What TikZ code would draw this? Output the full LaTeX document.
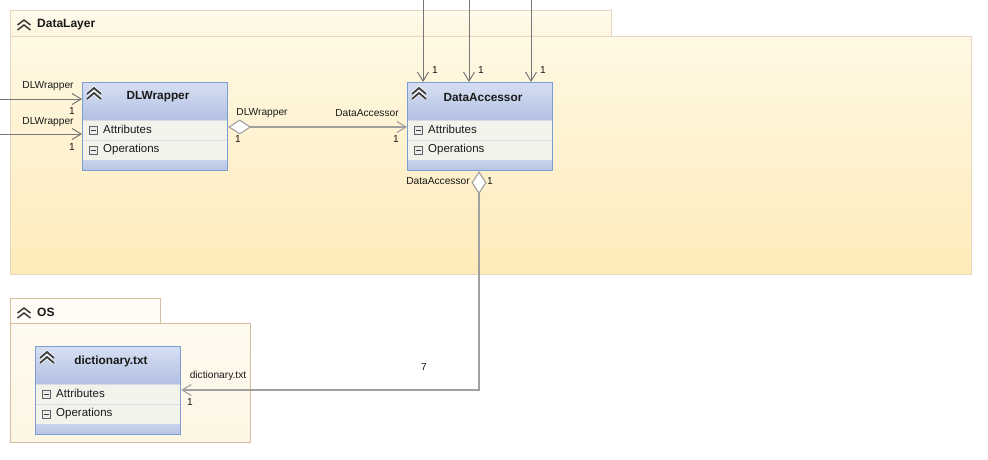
\documentclass[tikz,border=0pt]{standalone}
\usepackage{fontspec}
\setmainfont{Liberation Sans}
\usetikzlibrary{arrows.meta,calc}
\definecolor{pkgborder}{HTML}{E8D6C0}
\definecolor{pkgtop}{HTML}{FFF8E4}
\definecolor{pkgbot}{HTML}{FEEBB9}
\definecolor{tabtop}{HTML}{FFFBEE}
\definecolor{tabbot}{HTML}{FEF5DD}
\definecolor{osborder}{HTML}{D9BC9F}
\definecolor{ostop}{HTML}{FFFAF0}
\definecolor{osbot}{HTML}{FEF6E4}
\definecolor{ostabc}{HTML}{FFFCF6}
\definecolor{clsborder}{HTML}{7B9DD2}
\definecolor{hdrtop}{HTML}{D6DFF2}
\definecolor{hdrbot}{HTML}{B3C1E3}
\definecolor{rowc}{HTML}{F2F4EC}
\definecolor{sepc}{HTML}{D5DBE0}
\definecolor{stripc}{HTML}{B7C4E5}
\definecolor{iconc}{HTML}{3A3A3A}
\definecolor{linec}{HTML}{A0A0A0}
\definecolor{darkline}{HTML}{767676}
\definecolor{txtc}{HTML}{1A1A1A}
\tikzset{
  pkgbody/.style={draw=pkgborder, line width=1pt, top color=pkgtop, bottom color=pkgbot, inner sep=0pt, anchor=north west},
  pkgtab/.style={draw=pkgborder, line width=1pt, top color=tabtop, bottom color=tabbot, inner sep=0pt, anchor=north west},
  osbody/.style={draw=osborder, line width=1pt, top color=ostop, bottom color=osbot, inner sep=0pt, anchor=north west},
  ostab/.style={draw=osborder, line width=1pt, fill=ostabc, inner sep=0pt, anchor=north west},
  pkgtitle/.style={font=\bfseries\fontsize{12}{14}\selectfont, text=txtc, inner sep=0pt, anchor=west},
  clsbox/.style={draw=clsborder, line width=1.2pt, minimum width=145pt, minimum height=88pt, inner sep=0pt},
  clstitle/.style={font=\bfseries\fontsize{11.8}{13}\selectfont, text=txtc, inner sep=0pt},
  rowtext/.style={font=\fontsize{11.5}{13}\selectfont, text=txtc, inner sep=0pt, anchor=west},
  minusbox/.style={draw=iconc!80, fill=white!85!gray, line width=0.8pt, minimum size=8pt, inner sep=0pt},
  chevline/.style={draw=iconc, line width=1.8pt},
  lbl/.style={font=\fontsize{10.2}{12}\selectfont, text=txtc, inner sep=0pt},
  assocdark/.style={draw=darkline, line width=1pt, -{Straight Barb[length=9pt,width=11pt]}},
  agg/.style={draw=linec, line width=1.6pt, {Diamond[length=23pt,width=15pt,fill=white,line width=1.1pt]}-{Straight Barb[length=9pt,width=11pt,line width=1.1pt]}}
}
\newcommand{\umlcls}[4]{%
  \begin{scope}[shift={(#2,#3)}]
    \fill[rowc] (0,38) rectangle (145,78);
    \shade[top color=hdrtop, bottom color=hdrbot] (0,0) rectangle (145,38);
    \shade[top color=stripc!75!white, bottom color=stripc] (0,78) rectangle (145,88);
    \draw[sepc, line width=1pt] (0,38) -- (145,38);
    \draw[sepc, line width=1pt] (0,58) -- (145,58);
    \node[clsbox, anchor=north west] (#1) at (0,0) {};
    \draw[white, line width=3.2pt] (5,12) -- (12,6) -- (19,12);
    \draw[white, line width=3.2pt] (5,17) -- (12,11) -- (19,17);
    \draw[chevline] (5,12) -- (12,6) -- (19,12);
    \draw[chevline] (5,17) -- (12,11) -- (19,17);
    \node[clstitle] (#1-title) at (76,15) {#4};
    \node[minusbox] (#1-m1) at (11,48) {};
    \draw[iconc, line width=1pt] (8.5,48) -- (13.5,48);
    \node[minusbox] (#1-m2) at (11,68) {};
    \draw[iconc, line width=1pt] (8.5,68) -- (13.5,68);
    \node[rowtext] (#1-attr) at (21,47.5) {Attributes};
    \node[rowtext] (#1-ops) at (21,67.5) {Operations};
  \end{scope}}
\begin{document}
\begin{tikzpicture}[x=1pt,y=-1pt]
\useasboundingbox (0,0) rectangle (988,459);
\fill[white] (0,0) rectangle (988,459);
% DataLayer package
\node[pkgtab, minimum width=601pt, minimum height=26pt] (dltab) at (10,10) {};
\node[pkgbody, minimum width=961pt, minimum height=238pt] (dl) at (10,36) {};
\draw[chevline, line width=1.5pt] (17.5,25) -- (24,20) -- (30.5,25);
\draw[chevline, line width=1.5pt] (17.5,30) -- (24,25) -- (30.5,30);
\node[pkgtitle] (dlname) at (37,24.5) {DataLayer};
% OS package
\node[ostab, minimum width=150pt, minimum height=25pt] (ostab) at (10,298) {};
\node[osbody, minimum width=240pt, minimum height=119pt] (os) at (10,323) {};
\draw[chevline, line width=1.5pt] (17.5,313) -- (24,308) -- (30.5,313);
\draw[chevline, line width=1.5pt] (17.5,318) -- (24,313) -- (30.5,318);
\node[pkgtitle] (osname) at (37,312.5) {OS};
% classes
\umlcls{dlw}{82}{82}{DLWrapper}
\umlcls{da}{407}{82}{DataAccessor}
\umlcls{dict}{35}{346}{dictionary.txt}
% incoming to DLWrapper
\coordinate (in1) at (0,99);
\coordinate (in2) at (0,134);
\draw[assocdark] (in1) -- (in1 -| dlw.west);
\draw[assocdark] (in2) -- (in2 -| dlw.west);
\node[lbl] (lin1) at (48,86.5) {DLWrapper};
\node[lbl] (lin1m) at (72,110.5) {1};
\node[lbl] (lin2) at (48,122) {DLWrapper};
\node[lbl] (lin2m) at (72,147) {1};
% DLWrapper -> DataAccessor
\coordinate (r1) at (0,127);
\draw[agg] (r1 -| dlw.east) -- (r1 -| da.west);
\node[lbl] (a1) at (262,113) {DLWrapper};
\node[lbl] (a1m) at (238,139) {1};
\node[lbl] (a2) at (367,113) {DataAccessor};
\node[lbl] (a2m) at (396,139) {1};
% top incoming to DataAccessor
\coordinate (t1) at (423,0);
\coordinate (t2) at (469,0);
\coordinate (t3) at (531,0);
\draw[assocdark] (t1) -- (t1 |- da.north);
\draw[assocdark] (t2) -- (t2 |- da.north);
\draw[assocdark] (t3) -- (t3 |- da.north);
\node[lbl] (t1m) at (435,70) {1};
\node[lbl] (t2m) at (481,70) {1};
\node[lbl] (t3m) at (543,70) {1};
% DataAccessor -> dictionary.txt
\coordinate (bx) at (479,390);
\draw[agg] (bx |- da.south) -- (bx) -- (bx -| dict.east);
\node[lbl] (b1) at (438,181) {DataAccessor};
\node[lbl] (b1m) at (490,181) {1};
\node[lbl] (b7) at (424,367) {7};
\node[lbl] (b2) at (218,376) {dictionary.txt};
\node[lbl] (b2m) at (190,402) {1};
\end{tikzpicture}
\end{document}
